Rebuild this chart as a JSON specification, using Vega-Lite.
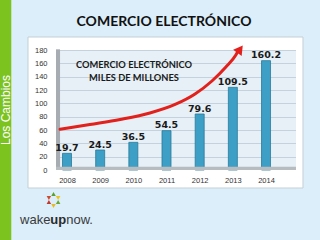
{
  "$schema": "https://vega.github.io/schema/vega-lite/v6.json",
  "width": 240,
  "height": 120,
  "autosize": {"type": "none"},
  "padding": {"left": 56, "top": 50, "right": 24, "bottom": 70},
  "background": "#dbeefa",
  "config": {"view": {"fill": "#e6f0f6", "stroke": null}},
  "datasets": {
    "ventas": [
      {"anio": 2008, "valor": 19.7, "altura": 25},
      {"anio": 2009, "valor": 24.5, "altura": 30},
      {"anio": 2010, "valor": 36.5, "altura": 41.5},
      {"anio": 2011, "valor": 54.5, "altura": 59},
      {"anio": 2012, "valor": 79.6, "altura": 84},
      {"anio": 2013, "valor": 109.5, "altura": 124},
      {"anio": 2014, "valor": 160.2, "altura": 164}
    ],
    "curva": [
      {"x": 2007.79, "y": 61},
      {"x": 2008.69, "y": 68.3},
      {"x": 2009.6, "y": 75.8},
      {"x": 2010.5, "y": 85.5},
      {"x": 2011.26, "y": 98.3},
      {"x": 2011.86, "y": 114},
      {"x": 2012.37, "y": 133.5},
      {"x": 2012.79, "y": 154.5},
      {"x": 2013.09, "y": 172.5},
      {"x": 2013.15, "y": 177.8}
    ],
    "uno": [{}]
  },
  "resolve": {"axis": {"x": "independent", "y": "independent"}},
  "layer": [
    {
      "data": {"name": "uno"},
      "mark": {"type": "rect", "fill": "#7cc31f"},
      "encoding": {
        "x": {"datum": 2005.97, "type": "quantitative", "axis": null, "scale": {"domain": [2007.668, 2014.904], "nice": false, "zero": false, "padding": 0}},
        "x2": {"datum": 2006.32},
        "y": {"datum": 256, "type": "quantitative", "axis": null, "scale": {"domain": [0, 180], "nice": false, "zero": false}},
        "y2": {"datum": -106}
      }
    },
    {
      "data": {"name": "uno"},
      "mark": {"type": "text", "color": "white", "font": "Liberation Sans", "fontSize": 12, "angle": 270, "align": "center", "baseline": "middle"},
      "encoding": {
        "x": {"datum": 2006.15, "type": "quantitative", "axis": null},
        "y": {"datum": 90, "type": "quantitative", "axis": null},
        "text": {"value": "Los  Cambios"}
      }
    },
    {
      "data": {"name": "uno"},
      "mark": {"type": "rect", "fill": "white"},
      "encoding": {
        "x": {"datum": 2006.824, "type": "quantitative", "axis": null},
        "x2": {"datum": 2007.668},
        "y": {"datum": -27, "type": "quantitative", "axis": null},
        "y2": {"datum": 199.5}
      }
    },
    {
      "data": {"name": "uno"},
      "mark": {"type": "rect", "fill": "white"},
      "encoding": {
        "x": {"datum": 2014.904, "type": "quantitative", "axis": null},
        "x2": {"datum": 2015.115},
        "y": {"datum": -27, "type": "quantitative", "axis": null},
        "y2": {"datum": 199.5}
      }
    },
    {
      "data": {"name": "uno"},
      "mark": {"type": "rect", "fill": "white"},
      "encoding": {
        "x": {"datum": 2007.66, "type": "quantitative", "axis": null},
        "x2": {"datum": 2014.91},
        "y": {"datum": 180, "type": "quantitative", "axis": null},
        "y2": {"datum": 199.5}
      }
    },
    {
      "data": {"name": "uno"},
      "mark": {"type": "rect", "fill": "white"},
      "encoding": {
        "x": {"datum": 2007.66, "type": "quantitative", "axis": null},
        "x2": {"datum": 2014.91},
        "y": {"datum": -27, "type": "quantitative", "axis": null},
        "y2": {"datum": 0}
      }
    },
    {
      "data": {"name": "uno"},
      "mark": {"type": "rect", "filled": false, "stroke": "#c5cfd6", "strokeWidth": 1},
      "encoding": {
        "x": {"datum": 2006.824, "type": "quantitative", "axis": null},
        "x2": {"datum": 2015.115},
        "y": {"datum": -27, "type": "quantitative", "axis": null},
        "y2": {"datum": 199.5}
      }
    },
    {
      "data": {"name": "ventas"},
      "mark": {"type": "bar", "width": 9, "fill": "#3d9fc6", "stroke": "#2a7a99", "strokeWidth": 0.8},
      "encoding": {
        "x": {"field": "anio", "type": "quantitative", "scale": {"domain": [2007.668, 2014.904], "nice": false, "zero": false, "padding": 0}, "axis": {"orient": "bottom", "values": [2008, 2009, 2010, 2011, 2012, 2013, 2014], "format": "d", "title": null, "grid": false, "domain": false, "ticks": false, "labelPadding": 6, "labelFont": "Liberation Sans", "labelFontSize": 7.5, "labelColor": "#333333", "zindex": 1}},
        "y": {"field": "altura", "type": "quantitative", "scale": {"domain": [0, 180], "nice": false, "zero": false}, "axis": {"orient": "left", "values": [0, 20, 40, 60, 80, 100, 120, 140, 160, 180], "grid": true, "gridColor": "#c3d2dc", "gridWidth": 1, "labels": false, "ticks": false, "domain": false, "title": null, "zindex": 0}}
      }
    },
    {
      "data": {"name": "uno"},
      "mark": {"type": "rect", "fill": "#a6acb1"},
      "encoding": {
        "x": {"datum": 2007.668, "type": "quantitative", "axis": null},
        "x2": {"datum": 2007.79},
        "y": {"datum": 0, "type": "quantitative", "axis": null},
        "y2": {"datum": 181}
      }
    },
    {
      "data": {"name": "uno"},
      "mark": {"type": "rect", "fill": "#b7bcc1"},
      "encoding": {
        "x": {"datum": 2007.668, "type": "quantitative", "axis": null},
        "x2": {"datum": 2014.904},
        "y": {"datum": 0, "type": "quantitative", "axis": null},
        "y2": {"datum": 5}
      }
    },
    {
      "data": {"name": "ventas"},
      "mark": {"type": "text", "font": "DejaVu Sans", "fontWeight": "bold", "fontSize": 9.5, "color": "#1a1a1a", "baseline": "alphabetic", "align": "center", "dy": -2.5},
      "encoding": {
        "x": {"field": "anio", "type": "quantitative", "axis": null},
        "y": {"field": "altura", "type": "quantitative", "axis": {"orient": "left", "values": [0, 20, 40, 60, 80, 100, 120, 140, 160, 180], "grid": false, "ticks": false, "domain": false, "title": null, "labelPadding": 9, "labelFont": "Liberation Sans", "labelFontSize": 7.5, "labelColor": "#333333", "zindex": 1}},
        "text": {"field": "valor", "type": "quantitative", "format": ".1f"}
      }
    },
    {
      "data": {"name": "curva"},
      "mark": {"type": "line", "color": "#e2211c", "strokeWidth": 3, "interpolate": "monotone", "strokeCap": "round"},
      "encoding": {
        "x": {"field": "x", "type": "quantitative", "axis": null},
        "y": {"field": "y", "type": "quantitative", "axis": null}
      }
    },
    {
      "data": {"name": "uno"},
      "mark": {"type": "point", "shape": "triangle-up", "filled": true, "color": "#e2211c", "size": 110, "angle": 36, "opacity": 1},
      "encoding": {
        "x": {"datum": 2013.218, "type": "quantitative", "axis": null},
        "y": {"datum": 181.3, "type": "quantitative", "axis": null}
      }
    },
    {
      "data": {"name": "uno"},
      "mark": {"type": "text", "font": "Lato", "fontWeight": "bold", "fontSize": 9.3, "color": "#1a1a1a", "align": "center", "baseline": "alphabetic", "lineHeight": 12.4},
      "encoding": {
        "x": {"datum": 2010.02, "type": "quantitative", "axis": null},
        "y": {"datum": 152.5, "type": "quantitative", "axis": null},
        "text": {"value": ["COMERCIO ELECTRÓNICO", "MILES DE MILLONES"]}
      }
    },
    {
      "data": {"name": "uno"},
      "mark": {"type": "text", "font": "Lato", "fontWeight": "bold", "fontSize": 14, "color": "#111111", "align": "center", "baseline": "alphabetic"},
      "encoding": {
        "x": {"datum": 2010.924, "type": "quantitative", "axis": null},
        "y": {"datum": 216, "type": "quantitative", "axis": null},
        "text": {"value": "COMERCIO ELECTRÓNICO"}
      }
    },
    {
      "data": {"name": "uno"},
      "mark": {"type": "text", "font": "Liberation Sans", "fontSize": 13, "color": "#3a3a3a", "align": "left", "baseline": "alphabetic"},
      "encoding": {
        "x": {"datum": 2006.583, "type": "quantitative", "axis": null},
        "y": {"datum": -81, "type": "quantitative", "axis": null},
        "text": {"value": "wake"}
      }
    },
    {
      "data": {"name": "uno"},
      "mark": {"type": "text", "font": "Liberation Sans", "fontWeight": "bold", "fontSize": 13, "color": "#2a2a2a", "align": "left", "baseline": "alphabetic"},
      "encoding": {
        "x": {"datum": 2007.496, "type": "quantitative", "axis": null},
        "y": {"datum": -81, "type": "quantitative", "axis": null},
        "text": {"value": "up"}
      }
    },
    {
      "data": {"name": "uno"},
      "mark": {"type": "text", "font": "Liberation Sans", "fontSize": 13, "color": "#3a3a3a", "align": "left", "baseline": "alphabetic"},
      "encoding": {
        "x": {"datum": 2007.976, "type": "quantitative", "axis": null},
        "y": {"datum": -81, "type": "quantitative", "axis": null},
        "text": {"value": "now."}
      }
    },
    {
      "data": {"name": "uno"},
      "mark": {"type": "point", "shape": "triangle-up", "filled": true, "color": "#5a9e2c", "size": 20, "angle": 0, "opacity": 1},
      "encoding": {
        "x": {"datum": 2007.593, "type": "quantitative", "axis": null},
        "y": {"datum": -36, "type": "quantitative", "axis": null}
      }
    },
    {
      "data": {"name": "uno"},
      "mark": {"type": "point", "shape": "triangle-up", "filled": true, "color": "#f0c419", "size": 20, "angle": 60, "opacity": 1},
      "encoding": {
        "x": {"datum": 2007.749, "type": "quantitative", "axis": null},
        "y": {"datum": -40.5, "type": "quantitative", "axis": null}
      }
    },
    {
      "data": {"name": "uno"},
      "mark": {"type": "point", "shape": "triangle-up", "filled": true, "color": "#6aa832", "size": 20, "angle": 120, "opacity": 1},
      "encoding": {
        "x": {"datum": 2007.749, "type": "quantitative", "axis": null},
        "y": {"datum": -49.5, "type": "quantitative", "axis": null}
      }
    },
    {
      "data": {"name": "uno"},
      "mark": {"type": "point", "shape": "triangle-up", "filled": true, "color": "#e8b923", "size": 20, "angle": 180, "opacity": 1},
      "encoding": {
        "x": {"datum": 2007.593, "type": "quantitative", "axis": null},
        "y": {"datum": -54, "type": "quantitative", "axis": null}
      }
    },
    {
      "data": {"name": "uno"},
      "mark": {"type": "point", "shape": "triangle-up", "filled": true, "color": "#c0392b", "size": 20, "angle": 240, "opacity": 1},
      "encoding": {
        "x": {"datum": 2007.436, "type": "quantitative", "axis": null},
        "y": {"datum": -49.5, "type": "quantitative", "axis": null}
      }
    },
    {
      "data": {"name": "uno"},
      "mark": {"type": "point", "shape": "triangle-up", "filled": true, "color": "#d04a2a", "size": 20, "angle": 300, "opacity": 1},
      "encoding": {
        "x": {"datum": 2007.436, "type": "quantitative", "axis": null},
        "y": {"datum": -40.5, "type": "quantitative", "axis": null}
      }
    }
  ]
}
